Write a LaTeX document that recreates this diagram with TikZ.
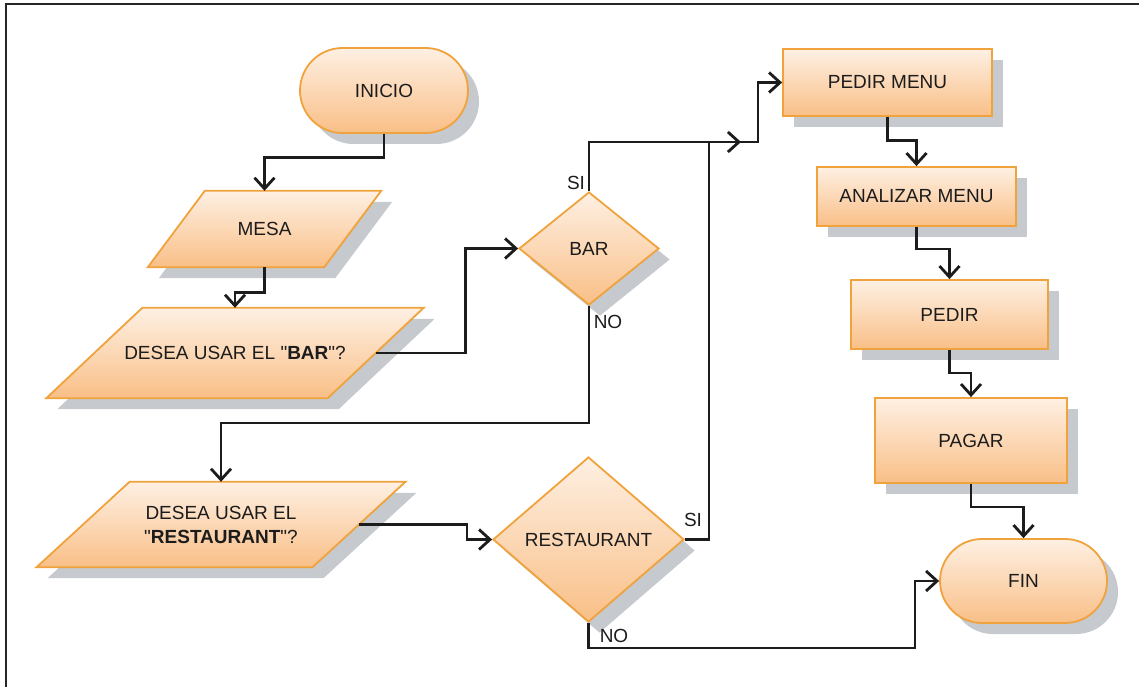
\documentclass[tikz,border=0pt]{standalone}
\usepackage{fontspec}
\setmainfont{Liberation Sans}[Ligatures=TeXOff]
\usetikzlibrary{shapes.geometric,shapes.misc,shadows,arrows.meta,calc,backgrounds}

\definecolor{edgeor}{HTML}{F0A23C}
\definecolor{filltop}{HTML}{FEF0E3}
\definecolor{fillbot}{HTML}{F9BF87}
\definecolor{shadowc}{HTML}{C6C9CD}
\definecolor{ink}{HTML}{1C1C1C}

\newcommand\qt{\symbol{34}}

\tikzset{
  boxtext/.style={text=ink, font=\fontsize{19}{24}\selectfont, inner sep=0pt, align=center},
  skin/.style={draw=edgeor, line width=1.8pt, top color=filltop, bottom color=fillbot},
  box/.style={boxtext, skin,
    drop shadow={shadow xshift=11pt, shadow yshift=-11pt, fill=shadowc, opacity=1}},
  procbox/.style={box, rectangle},
  termbox/.style={box, rounded rectangle},
  decbox/.style={box, diamond, aspect=1.2},
  iobox/.style={boxtext, rectangle},
  lbl/.style={text=ink, font=\fontsize{19}{24}\selectfont, inner sep=0pt},
  wire/.style={draw=ink, line width=2.8pt},
  conn/.style={wire, -{Straight Barb[length=11pt,width=20pt,line width=2.8pt]}}
}

% parallelogram (with its shadow) around a data node #1; #2 = half the slant offset
\newcommand\drawio[2]{%
  \begin{pgfonlayer}{background}
    \fill[shadowc]
      ($(#1.north west)+(#2+11,11)$) -- ($(#1.north east)+(#2+11,11)$) --
      ($(#1.south east)+(-#2+11,11)$) -- ($(#1.south west)+(-#2+11,11)$) -- cycle;
    \path[skin]
      ($(#1.north west)+(#2,0)$) -- ($(#1.north east)+(#2,0)$) --
      ($(#1.south east)+(-#2,0)$) -- ($(#1.south west)+(-#2,0)$) -- cycle;
  \end{pgfonlayer}}

\begin{document}
\begin{tikzpicture}[x=1pt,y=-1pt]
\useasboundingbox (0,0) rectangle (1139,687);

% frame
\draw[line width=2pt, draw=black!85] (6,687) -- (6,4) -- (1139,4);

% left column
\node[termbox, minimum width=168pt, minimum height=85pt] (ini) at (384,90.5) {INICIO};
\node[iobox, minimum width=176pt, minimum height=76pt] (mesa) at (264.5,229) {MESA};
\drawio{mesa}{28.5}
\node[iobox, minimum width=281pt, minimum height=90pt] (barq) at (235,353)
      {DESEA USAR EL \qt\textbf{BAR}\qt?};
\drawio{barq}{48}
\node[iobox, minimum width=275.5pt, minimum height=85pt] (restq) at (221,524.5)
      {DESEA USAR EL\\\qt\textbf{RESTAURANT}\qt?};
\drawio{restq}{46.5}

% decisions
\node[decbox, minimum width=140pt, minimum height=113pt] (bar) at (589,248.5) {BAR};
\node[decbox, minimum width=191pt, minimum height=165pt] (rest) at (588.5,539.5) {RESTAURANT};

% right column
\node[procbox, minimum width=209pt, minimum height=67pt] (pm) at (887.5,82.5) {PEDIR MENU};
\node[procbox, minimum width=199pt, minimum height=59pt] (am) at (916.5,196.5) {ANALIZAR MENU};
\node[procbox, minimum width=197pt, minimum height=69pt] (pd) at (949.5,314.5) {PEDIR};
\node[procbox, minimum width=192pt, minimum height=85pt] (pg) at (971,440.5) {PAGAR};
\node[termbox, minimum width=167pt, minimum height=84pt] (fin) at (1023.5,581) {FIN};

% branch labels
\node[lbl] (si1) at (576,183) {SI};
\node[lbl] (no1) at (608,322) {NO};
\node[lbl] (si2) at (693,520) {SI};
\node[lbl] (no2) at (614,636) {NO};

% junction points
\coordinate (jn) at (709,142);
\coordinate (tip) at (741,142);
\coordinate (kink) at (758,142);
\coordinate (low) at (915,648);

% connectors
\draw[conn] (ini.south) -- ++(0,24) -| (mesa.north);
\draw[conn] (mesa.south) -- ++(0,25) -| (barq.north);
\draw[conn] (barq.east) -- ++(90,0) |- (bar.west);
\draw[conn] (bar.north) |- (kink) |- (pm.west);
\draw[conn] (jn) -- (tip);
\draw[conn] (bar.south) -- ++(0,117) -| (restq.north);
\draw[conn] (restq.east) -- ++(108,0) |- (rest.west);
\draw[wire] (rest.east) -| (jn);
\draw[conn] (rest.south) |- (low) |- (fin.west);
\draw[conn] (pm.south) -- ++(0,24) -| (am.north);
\draw[conn] (am.south) -- ++(0,22) -| (pd.north);
\draw[conn] (pd.south) -- ++(0,23) -| (pg.north);
\draw[conn] (pg.south) -- ++(0,23) -| (fin.north);
\end{tikzpicture}
\end{document}
